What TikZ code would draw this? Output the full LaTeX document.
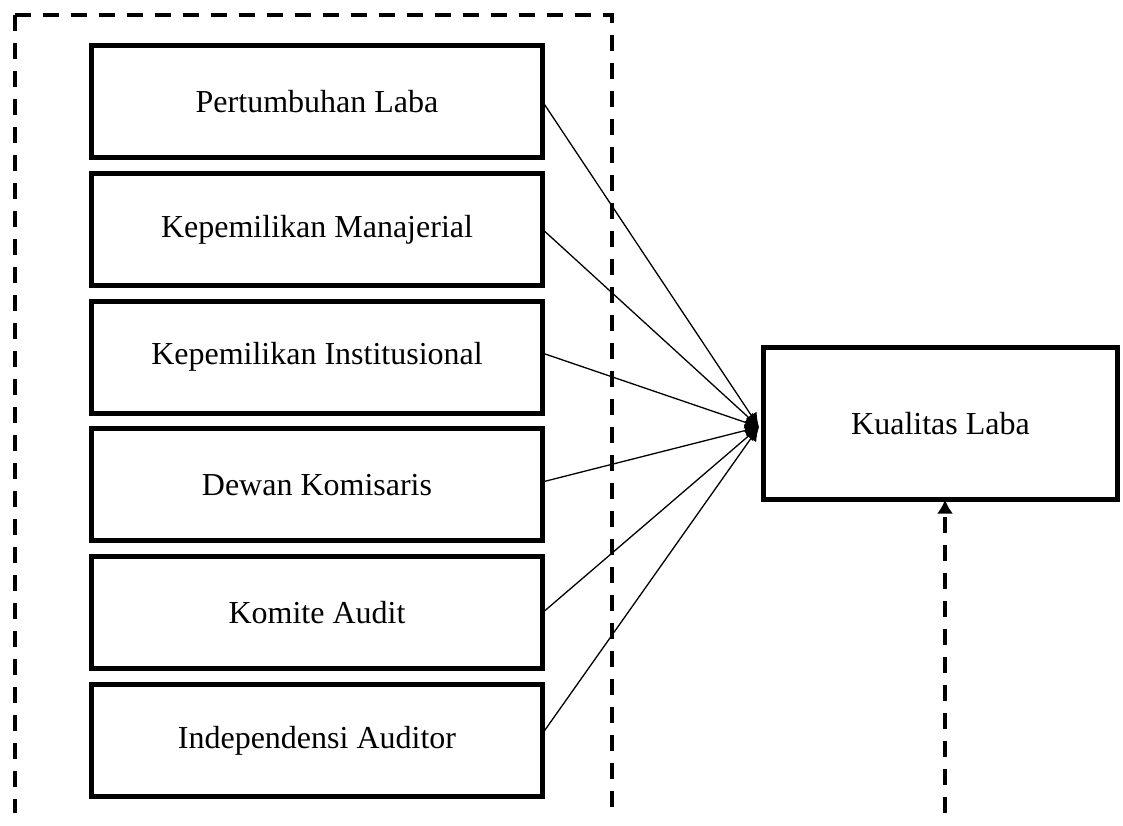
\documentclass[tikz,border=0pt]{standalone}
\usepackage{fontspec}
\setmainfont{Liberation Serif}
\usetikzlibrary{arrows.meta, positioning}

\begin{document}
\begin{tikzpicture}[x=0.5pt, y=-0.5pt,
                        varbox/.style={draw, line width=2.5pt, outer sep=0pt, inner sep=0pt, minimum width=225.5pt, minimum height=56pt, font=\fontsize{16}{19}\selectfont},
                        frame/.style={line width=2pt, dash pattern=on 8pt off 6pt},
                        link/.style={line width=0.65pt, -{Latex[length=7pt, width=6.5pt]}}]
                        \useasboundingbox (0,0) rectangle (1123,825);
                        \draw[frame] (15,15) -- (15,813);
                        \draw[frame] (15,15) -- (611.5,15) -- (611.5,813);
                        \node[varbox] (laba) at (317,101.5) {Pertumbuhan Laba};
                        \node[varbox] (manajerial) at (317,229.3) {Kepemilikan Manajerial};
                        \node[varbox] (institusional) at (317,357.1) {Kepemilikan Institusional};
                        \node[varbox] (dewan) at (317,484.9) {Dewan Komisaris};
                        \node[varbox] (komite) at (317,612.7) {Komite Audit};
                        \node[varbox] (auditor) at (317,740.5) {Independensi Auditor};
                        \node[varbox, minimum width=177pt, minimum height=76pt] (kualitas) at (940.5,423.5) {Kualitas Laba};
                        \coordinate (hub) at (759,427);
                        \coordinate (src) at (945,813);
                        \draw[link] (laba.east) -- (hub);
                        \draw[link] (manajerial.east) -- (hub);
                        \draw[link] ([yshift=2pt]institusional.east) -- (hub);
                        \draw[link] ([yshift=1.5pt]dewan.east) -- (hub);
                        \draw[link] (komite.east) -- (hub);
                        \draw[link] ([yshift=3.5pt]auditor.east) -- (hub);
                        \draw[frame, -{Latex[length=7pt, width=8pt]}] (src) -- (src |- kualitas.south);
                    \end{tikzpicture}
\end{document}
